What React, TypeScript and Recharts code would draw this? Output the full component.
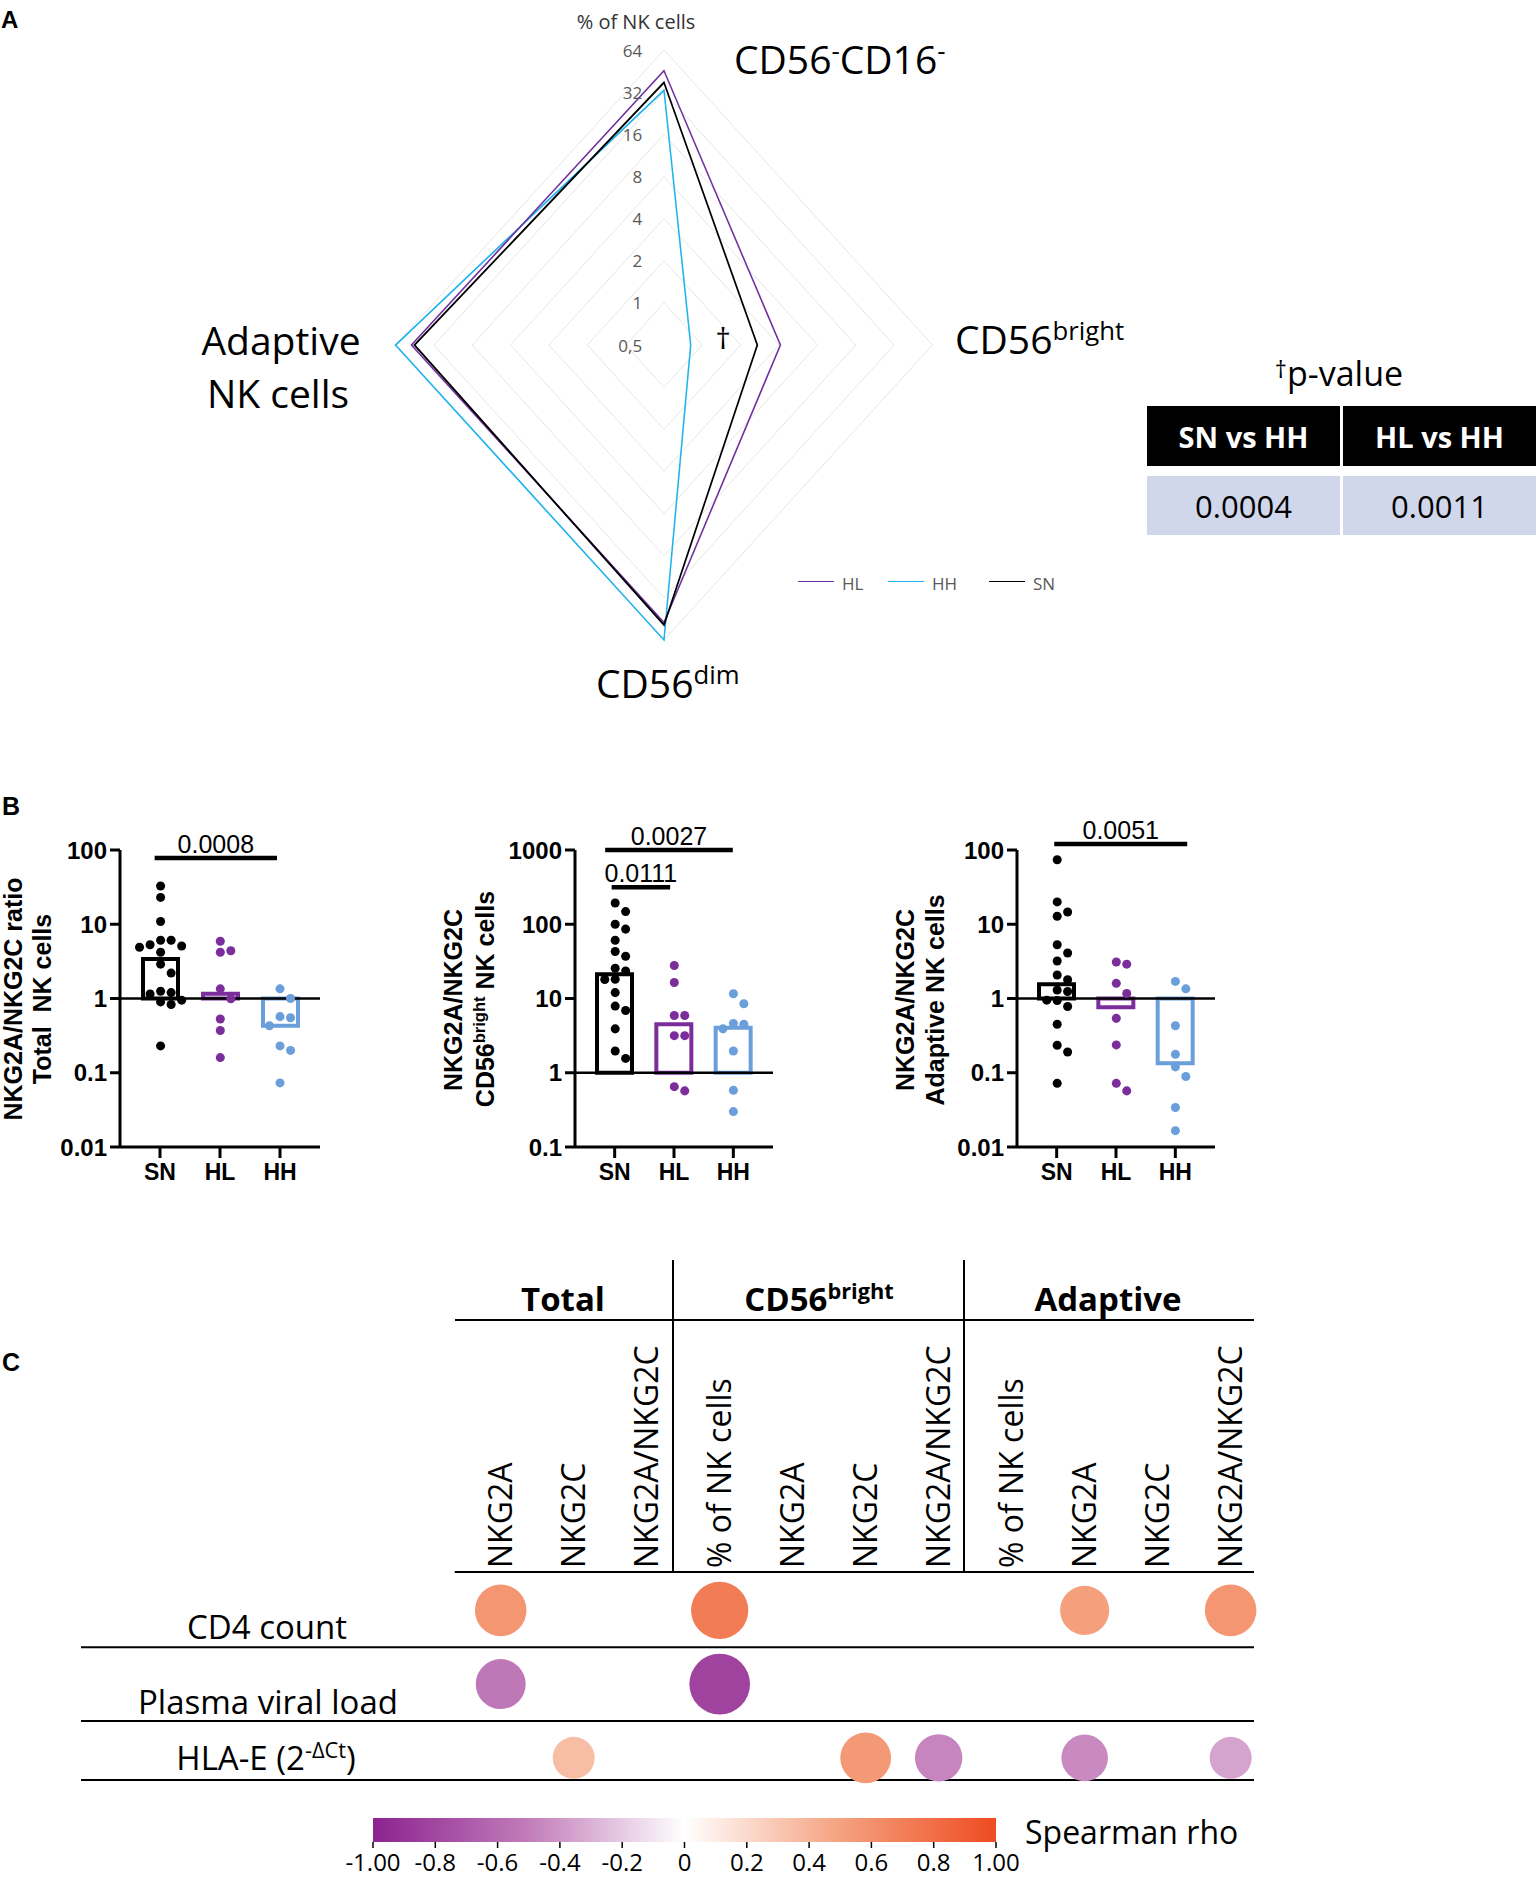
import React from "react";
import {
  RadarChart,
  Radar,
  PolarGrid,
  PolarAngleAxis,
  PolarRadiusAxis,
  ComposedChart,
  ScatterChart,
  Bar,
  Cell,
  Scatter,
  XAxis,
  YAxis,
  ZAxis,
  ReferenceLine,
  ReferenceArea,
} from "recharts";

// ---------- Panel A: radar (% of NK cells, log2 axis) ----------
const radarAxes = ["CD56-CD16-", "CD56bright", "CD56dim", "Adaptive"];
const radarHL = [45.5, 4.1, 48, 48];
const radarHH = [33, 0.81, 64, 64];
const radarSN = [37.5, 2.7, 50, 45.5];

const pHeads = ["SN vs HH", "HL vs HH"];
const pVals = ["0.0004", "0.0011"];

// ---------- Panel B: NKG2A/NKG2C ratios ----------
const groups = ["SN", "HL", "HH"];
const groupColors = ["#000000", "#7B2D9B", "#6A9FDB"];

const totalSN = [32.8, 23, 10.9, 6.1, 6.1, 5.3, 5.1, 4.9, 4.2, 2.9, 2.2, 1.25, 1.2, 1.15, 0.95, 0.9, 0.83, 0.23];
const totalHL = [5.9, 4.4, 4.2, 1.35, 0.99, 0.53, 0.37, 0.16];
const totalHH = [1.35, 1.0, 0.57, 0.55, 0.43, 0.23, 0.2, 0.073];
const totalBars = [3.41, 1.16, 0.43];

const brightSN = [193, 148, 100, 86, 61, 43, 37, 25.6, 23.5, 18.2, 18, 12, 7.9, 6.9, 3.9, 1.96, 1.56];
const brightHL = [27.8, 16.4, 5.9, 5.9, 3.16, 3.16, 0.65, 0.57];
const brightHH = [11.6, 8.5, 4.6, 4.5, 3.9, 1.96, 0.58, 0.3];
const brightBars = [21.2, 4.49, 4.05];

const adaptSN = [74, 20, 14.6, 12.8, 5.3, 4.1, 3.2, 2.07, 1.79, 1.3, 1.24, 0.95, 0.94, 0.78, 0.45, 0.235, 0.19, 0.072];
const adaptHL = [3.1, 2.9, 1.6, 1.17, 0.54, 0.237, 0.072, 0.057];
const adaptHH = [1.7, 1.35, 0.43, 0.177, 0.12, 0.089, 0.034, 0.0166];
const adaptBars = [1.56, 0.76, 0.134];

// ---------- Panel C: Spearman rho matrix ----------
const matrixCols = [
  "NKG2A", "NKG2C", "NKG2A/NKG2C",
  "% of NK cells", "NKG2A", "NKG2C", "NKG2A/NKG2C",
  "% of NK cells", "NKG2A", "NKG2C", "NKG2A/NKG2C",
];
const cd4Rho = [0.57, null, null, 0.72, null, null, null, null, 0.51, null, 0.57];
const viralRho = [-0.53, null, null, -0.82, null, null, null, null, null, null, null];
const hlaRho = [null, 0.35, null, null, null, 0.55, -0.47, null, -0.45, null, -0.35];

const rhoStops: [number, string][] = [
  [-1, "#8B2390"],
  [-0.5, "#C27DBA"],
  [0, "#FFFFFF"],
  [0.5, "#F5A27F"],
  [1, "#EE4B22"],
];
const rhoTicks = [-1, -0.8, -0.6, -0.4, -0.2, 0, 0.2, 0.4, 0.6, 0.8, 1];

const FONT = "'Open Sans', 'Noto Sans', sans-serif";
const ARIAL = "'Liberation Sans', Arial, sans-serif";
const SX = 0.91; // horizontal squeeze of the radar

function hex(c: string) {
  return [1, 3, 5].map((i) => parseInt(c.slice(i, i + 2), 16));
}
function rhoColor(r: number) {
  for (let i = 0; i < rhoStops.length - 1; i++) {
    const [a, ca] = rhoStops[i];
    const [b, cb] = rhoStops[i + 1];
    if (r >= a && r <= b) {
      const t = (r - a) / (b - a);
      const A = hex(ca);
      const B = hex(cb);
      const m = A.map((v, k) => Math.round(v + (B[k] - v) * t));
      return `rgb(${m.join(",")})`;
    }
  }
  return "#fff";
}

// simple beeswarm so the dots do not overlap (px: 59.5 per category, 74 per decade)
function swarm(vals: number[], center: number) {
  const placed: { x: number; y: number }[] = [];
  const out: { x: number; y: number }[] = new Array(vals.length);
  const order = vals.map((_, i) => i).sort((a, b) => vals[b] - vals[a]);
  for (const i of order) {
    const ly = Math.log10(vals[i]) * 74;
    for (let k = 0; k < 30; k++) {
      const off = (k === 0 ? 0 : (k % 2 === 1 ? 1 : -1) * Math.ceil(k / 2)) * 10.5;
      if (placed.every((p) => Math.hypot(p.x - off, p.y - ly) >= 10.2)) {
        placed.push({ x: off, y: ly });
        out[i] = { x: center + off / 59.5, y: vals[i] };
        break;
      }
    }
  }
  return out;
}

function Txt({ x, y, size, children, weight = 400, color = "#000", anchor = "middle", rotate = 0, family = FONT }: any) {
  const tx = anchor === "middle" ? "-50%" : anchor === "end" ? "-100%" : "0";
  return (
    <div
      style={{
        position: "absolute",
        left: x,
        top: y,
        fontSize: size,
        fontWeight: weight,
        color,
        fontFamily: family,
        whiteSpace: "nowrap",
        lineHeight: 1,
        transform: `translate(${tx}, -50%)${rotate ? ` rotate(${rotate}deg)` : ""}`,
      }}
    >
      {children}
    </div>
  );
}

const Sup = ({ children }: any) => (
  <span style={{ fontSize: "0.66em", position: "relative", top: "-0.55em" }}>{children}</span>
);

function RadarTick(props: any) {
  const { x, y, payload } = props;
  const v = Math.pow(2, payload.value);
  const label = v < 1 ? String(v).replace(".", ",") : String(v);
  return (
    <text
      transform={`translate(${x - 24},${y}) scale(${1 / SX},1)`}
      textAnchor="end"
      dominantBaseline="central"
      fontSize={17}
      fill="#595959"
      fontFamily={FONT}
    >
      {label}
    </text>
  );
}

function RadarPanel() {
  const rows = radarAxes.map((axis, i) => ({
    axis,
    HL: Math.log2(radarHL[i]),
    HH: Math.log2(radarHH[i]),
    SN: Math.log2(radarSN[i]),
  }));
  return (
    <div className="radarBox" style={{ position: "absolute", left: 344, top: 25 }}>
      <RadarChart width={640} height={640} data={rows} margin={{ top: 0, right: 0, bottom: 0, left: 0 }} outerRadius={295}>
        <PolarGrid gridType="polygon" radialLines={false} stroke="#E4E4E4" strokeWidth={1} />
        <PolarAngleAxis dataKey="axis" tick={false} axisLine={false} tickLine={false} />
        <PolarRadiusAxis
          angle={90}
          type="number"
          domain={[-1, 6]}
          tickCount={8}
          allowDecimals={false}
          axisLine={false}
          tickLine={false}
          tick={<RadarTick />}
        />
        <Radar dataKey="HH" stroke="#1FB2EC" strokeWidth={1.7} fill="none" fillOpacity={0} dot={false} isAnimationActive={false} />
        <Radar dataKey="HL" stroke="#7030A0" strokeWidth={1.7} fill="none" fillOpacity={0} dot={false} isAnimationActive={false} />
        <Radar dataKey="SN" stroke="#000000" strokeWidth={1.9} fill="none" fillOpacity={0} dot={false} isAnimationActive={false} />
      </RadarChart>
    </div>
  );
}

type Sig = { label: string; y: number; from: number; to: number };

function DotBarChart({ left, width, mLeft, mRight, domain, ticks, series, bars, sigs }: any) {
  const barData = bars.map((v: number, i: number) => ({ name: groups[i], range: [1, v] }));
  return (
    <div style={{ position: "absolute", left, top: 790 }}>
      <ComposedChart width={width} height={410} data={barData} margin={{ top: 60, right: mRight, bottom: 13, left: mLeft }}>
        <XAxis
          dataKey="name"
          type="category"
          padding={{ left: 10, right: 10 }}
          height={40}
          axisLine={{ stroke: "#000", strokeWidth: 3 }}
          tickLine={{ stroke: "#000", strokeWidth: 3 }}
          tickSize={11}
          tickMargin={6}
          tick={{ fill: "#000", fontSize: 23, fontWeight: 700, fontFamily: ARIAL }}
        />
        <XAxis xAxisId="num" dataKey="x" type="number" domain={[0.32, 3.67]} allowDataOverflow hide />
        <YAxis
          dataKey="y"
          type="number"
          scale="log"
          domain={domain}
          ticks={ticks}
          allowDataOverflow
          interval={0}
          width={80}
          tickFormatter={(v: number) => String(v)}
          axisLine={{ stroke: "#000", strokeWidth: 3 }}
          tickLine={{ stroke: "#000", strokeWidth: 3 }}
          tickSize={10}
          tickMargin={3}
          tick={{ fill: "#000", fontSize: 24, fontWeight: 700, fontFamily: ARIAL }}
        />
        <Bar dataKey="range" barSize={35} fill="#fff" strokeWidth={4} isAnimationActive={false}>
          {bars.map((_: number, i: number) => (
            <Cell key={i} stroke={groupColors[i]} />
          ))}
        </Bar>
        <ReferenceLine y={1} stroke="#000" strokeWidth={2.5} />
        {series.map((vals: number[], i: number) => (
          <Scatter
            key={groups[i]}
            xAxisId="num"
            data={swarm(vals, i + 1)}
            fill={groupColors[i]}
            isAnimationActive={false}
          />
        ))}
        {sigs.map((s: Sig) => (
          <ReferenceLine
            key={s.label}
            xAxisId="num"
            segment={[
              { x: s.from, y: s.y },
              { x: s.to, y: s.y },
            ]}
            stroke="#000"
            strokeWidth={4.5}
            ifOverflow="visible"
            label={{ value: s.label, position: "top", fill: "#000", fontSize: 25, fontFamily: ARIAL, offset: 5 }}
          />
        ))}
      </ComposedChart>
    </div>
  );
}

function ColTick(props: any) {
  const { x, y, payload } = props;
  return (
    <text transform={`translate(${x + 11},${y}) rotate(-90)`} textAnchor="start" fontSize={32} fontFamily={FONT} fill="#000">
      {matrixCols[payload.value]}
    </text>
  );
}

function Blob(props: any) {
  const { cx, cy, width, size, payload } = props;
  const r = width ? width / 2 : Math.sqrt((size || 64) / Math.PI);
  return <circle cx={cx} cy={cy} r={r} fill={rhoColor(payload.rho)} />;
}

function MatrixPanel() {
  const cells: { col: number; row: number; rho: number; mag: number }[] = [];
  [cd4Rho, viralRho, hlaRho].forEach((arr, row) =>
    arr.forEach((rho, col) => {
      if (rho !== null) cells.push({ col, row, rho, mag: Math.abs(rho) });
    })
  );
  const hLine = (y: number, x1: number) => (
    <ReferenceLine
      key={`h${y}`}
      segment={[
        { x: x1, y },
        { x: 10.32, y },
      ]}
      stroke="#000"
      strokeWidth={2}
      ifOverflow="visible"
    />
  );
  return (
    <div style={{ position: "absolute", left: 81, top: 1317 }}>
      <ScatterChart width={1185} height={467} margin={{ top: 0, right: 12, bottom: 4, left: 0 }}>
        <XAxis
          dataKey="col"
          type="number"
          orientation="top"
          domain={[-5.75, 10.32]}
          ticks={matrixCols.map((_, i) => i)}
          interval={0}
          height={255}
          axisLine={false}
          tickLine={false}
          tickSize={0}
          tickMargin={4}
          tick={<ColTick />}
        />
        <YAxis dataKey="row" type="number" domain={[-0.52, 2.3]} reversed hide />
        <ZAxis dataKey="mag" type="number" domain={[0, 1]} range={[264, 3468]} />
        {hLine(-0.52, -0.63)}
        {hLine(0.5, -5.75)}
        {hLine(1.5, -5.75)}
        {hLine(2.3, -5.75)}
        <Scatter data={cells} shape={<Blob />} isAnimationActive={false} />
      </ScatterChart>
    </div>
  );
}

function ColorBar() {
  return (
    <div style={{ position: "absolute", left: 333, top: 1808 }}>
      <ComposedChart
        width={700}
        height={69}
        data={rhoTicks.map((t) => ({ x: t, y: 0.5 }))}
        margin={{ top: 10, right: 37, bottom: 0, left: 40 }}
      >
        <defs>
          <linearGradient id="rhoGrad" x1="0" x2="1" y1="0" y2="0">
            {rhoStops.map(([o, c]) => (
              <stop key={o} offset={`${(o + 1) * 50}%`} stopColor={c} />
            ))}
          </linearGradient>
        </defs>
        <XAxis
          dataKey="x"
          type="number"
          domain={[-1, 1]}
          ticks={rhoTicks}
          interval={0}
          height={35}
          axisLine={false}
          tickLine={{ stroke: "#000", strokeWidth: 1.5 }}
          tickSize={6}
          tickMargin={6}
          tickFormatter={(v: number) => (Math.abs(v) === 1 ? v.toFixed(2) : v === 0 ? "0" : v.toFixed(1))}
          tick={{ fill: "#000", fontSize: 24, fontFamily: FONT }}
        />
        <YAxis dataKey="y" type="number" domain={[0, 1]} hide />
        <ReferenceArea x1={-1} x2={1} y1={0} y2={1} fill="url(#rhoGrad)" fillOpacity={1} stroke="none" />
        <Scatter dataKey="y" fill="#fff" fillOpacity={0} isAnimationActive={false} />
      </ComposedChart>
    </div>
  );
}

export default function App() {
  return (
    <div style={{ position: "relative", width: 1536, height: 1877, background: "#fff", overflow: "hidden" }}>
      <style>{`body{margin:0} .radarBox svg{transform:scaleX(${SX});transform-origin:50% 50%;}`}</style>

      {/* ---------- A ---------- */}
      <Txt x={1} y={20} size={24} weight={700} anchor="start" family={ARIAL}>A</Txt>
      <RadarPanel />
      <Txt x={636} y={22} size={20} color="#333">% of NK cells</Txt>
      <Txt x={734} y={58} size={39} anchor="start">
        CD56<Sup>-</Sup>CD16<Sup>-</Sup>
      </Txt>
      <Txt x={955} y={338} size={39} anchor="start">
        CD56<Sup>bright</Sup>
      </Txt>
      <Txt x={596} y={682} size={39} anchor="start">
        CD56<Sup>dim</Sup>
      </Txt>
      <Txt x={281} y={339} size={39}>Adaptive</Txt>
      <Txt x={278} y={392} size={39}>NK cells</Txt>
      <Txt x={723} y={338} size={30}>†</Txt>

      {/* legend */}
      {["HL", "HH", "SN"].map((name, i) => {
        const colors = ["#7030A0", "#1FB2EC", "#000"];
        const x0 = [798, 888, 989][i];
        return (
          <React.Fragment key={name}>
            <div style={{ position: "absolute", left: x0, top: 581, width: 36, borderTop: `1.6px solid ${colors[i]}` }} />
            <Txt x={x0 + 44} y={583} size={17} color="#595959" anchor="start">{name}</Txt>
          </React.Fragment>
        );
      })}

      {/* p-value table */}
      <Txt x={1339} y={373} size={34}>
        <span style={{ fontSize: "0.7em", position: "relative", top: "-0.35em" }}>†</span>p-value
      </Txt>
      {pHeads.map((h, i) => (
        <div
          key={h}
          style={{
            position: "absolute",
            left: i === 0 ? 1147 : 1343,
            top: 406,
            width: 193,
            height: 60,
            background: "#000",
            color: "#fff",
            fontFamily: FONT,
            fontWeight: 700,
            fontSize: 29,
            display: "flex",
            alignItems: "center",
            justifyContent: "center",
          }}
        >
          {h}
        </div>
      ))}
      {pVals.map((v, i) => (
        <div
          key={v}
          style={{
            position: "absolute",
            left: i === 0 ? 1147 : 1343,
            top: 476,
            width: 193,
            height: 59,
            background: "#D1D7EB",
            color: "#000",
            fontFamily: FONT,
            fontSize: 31,
            display: "flex",
            alignItems: "center",
            justifyContent: "center",
          }}
        >
          {v}
        </div>
      ))}

      {/* ---------- B ---------- */}
      <Txt x={2} y={806} size={25} weight={700} anchor="start" family={ARIAL}>B</Txt>
      <DotBarChart
        left={0}
        width={340}
        mLeft={40}
        mRight={20}
        domain={[0.01, 100]}
        ticks={[0.01, 0.1, 1, 10, 100]}
        series={[totalSN, totalHL, totalHH]}
        bars={totalBars}
        sigs={[{ label: "0.0008", y: 78, from: 0.9, to: 2.95 }]}
      />
      <DotBarChart
        left={440}
        width={360}
        mLeft={55}
        mRight={27}
        domain={[0.1, 1000]}
        ticks={[0.1, 1, 10, 100, 1000]}
        series={[brightSN, brightHL, brightHH]}
        bars={brightBars}
        sigs={[
          { label: "0.0027", y: 1000, from: 0.83, to: 2.99 },
          { label: "0.0111", y: 316, from: 0.94, to: 1.93 },
        ]}
      />
      <DotBarChart
        left={880}
        width={360}
        mLeft={57}
        mRight={25}
        domain={[0.01, 100]}
        ticks={[0.01, 0.1, 1, 10, 100]}
        series={[adaptSN, adaptHL, adaptHH]}
        bars={adaptBars}
        sigs={[{ label: "0.0051", y: 120, from: 0.95, to: 3.2 }]}
      />
      <Txt x={13} y={999} size={25} weight={700} rotate={-90} family={ARIAL}>NKG2A/NKG2C ratio</Txt>
      <Txt x={42} y={999} size={25} weight={700} rotate={-90} family={ARIAL}>Total&nbsp; NK cells</Txt>
      <Txt x={453} y={1000} size={25} weight={700} rotate={-90} family={ARIAL}>NKG2A/NKG2C</Txt>
      <Txt x={485} y={999} size={25} weight={700} rotate={-90} family={ARIAL}>
        CD56<Sup>bright</Sup> NK cells
      </Txt>
      <Txt x={905} y={1000} size={25} weight={700} rotate={-90} family={ARIAL}>NKG2A/NKG2C</Txt>
      <Txt x={935} y={1000} size={25} weight={700} rotate={-90} family={ARIAL}>Adaptive NK cells</Txt>

      {/* ---------- C ---------- */}
      <Txt x={2} y={1362} size={25} weight={700} anchor="start" family={ARIAL}>C</Txt>
      <Txt x={563} y={1298} size={33} weight={700}>Total</Txt>
      <Txt x={819} y={1298} size={33} weight={700}>
        CD56<Sup>bright</Sup>
      </Txt>
      <Txt x={1108} y={1298} size={33} weight={700}>Adaptive</Txt>
      <div style={{ position: "absolute", left: 455, top: 1319, width: 799, height: 2, background: "#000" }} />
      <div style={{ position: "absolute", left: 672, top: 1260, width: 1.5, height: 312, background: "#000" }} />
      <div style={{ position: "absolute", left: 963, top: 1260, width: 1.5, height: 312, background: "#000" }} />
      <MatrixPanel />
      <Txt x={267} y={1626} size={33}>CD4 count</Txt>
      <Txt x={268} y={1701} size={33}>Plasma viral load</Txt>
      <Txt x={266} y={1757} size={33}>
        HLA-E (2<Sup>-ΔCt</Sup>)
      </Txt>

      <ColorBar />
      <Txt x={1025} y={1832} size={32} anchor="start">Spearman rho</Txt>
    </div>
  );
}
